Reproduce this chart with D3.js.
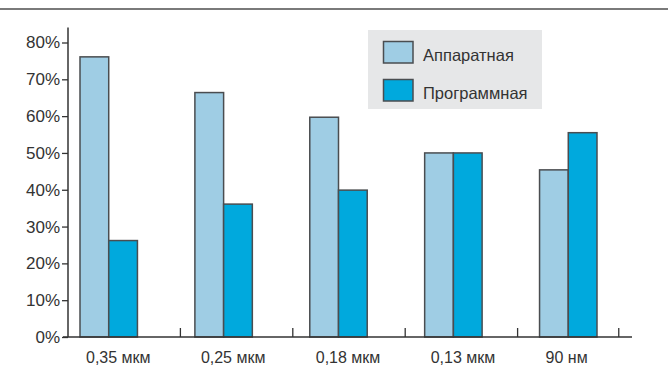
<!DOCTYPE html>
<html><head><meta charset="utf-8">
<script src="https://cdn.jsdelivr.net/npm/d3@7/dist/d3.min.js"></script>
<style>
html,body{margin:0;padding:0;background:#fff;}
svg{display:block;font-family:"Liberation Sans",Arial,sans-serif;}
</style></head>
<body>
<svg id="chart" width="668" height="378"></svg>
<script>
const categories = ["0,35 мкм", "0,25 мкм", "0,18 мкм", "0,13 мкм", "90 нм"];
const seriesNames = ["Аппаратная", "Программная"];
const hardware = [76.1, 66.4, 59.7, 50, 45.4];
const software = [26.2, 36.1, 39.9, 50, 55.5];
const yTicks = [0, 10, 20, 30, 40, 50, 60, 70, 80];
const colors = ["#9fcde4", "#00a9dd"];

const svg = d3.select("#chart");
const axisColor = "#333";
const strokeColor = "#4a4d50";

// top rule
svg.append("rect").attr("x", 0).attr("y", 8).attr("width", 668).attr("height", 2).attr("fill", "#7a7a7a");

const y = d3.scaleLinear().domain([0, 80]).range([337, 42.5]);
const x0 = d3.scaleBand().domain(categories).range([80, 597]).paddingInner(0.5).paddingOuter(0);
const x1 = d3.scaleBand().domain(seriesNames).range([0, x0.bandwidth()]).padding(0);
const sep = d3.scaleLinear().domain([0, 5]).range([68, 630]);

// bars
const g = svg.append("g");
categories.forEach((c, i) => {
  const vals = [hardware[i], software[i]];
  seriesNames.forEach((s, j) => {
    g.append("rect")
      .attr("x", x0(c) + x1(s))
      .attr("y", y(vals[j]))
      .attr("width", x1.bandwidth())
      .attr("height", y(0) - y(vals[j]))
      .attr("fill", colors[j])
      .attr("stroke", strokeColor)
      .attr("stroke-width", 1.5);
  });
});

// y axis
const yAxis = d3.axisLeft(y).tickValues(yTicks).tickFormat(d => d + "%").tickSize(6).tickPadding(2);
const ya = svg.append("g").attr("transform", "translate(68,0)").call(yAxis);
ya.select(".domain").attr("stroke", axisColor).attr("stroke-width", 1.5).attr("d", `M0,${y(80) - 15}V${y(0)}`);
ya.selectAll(".tick line").attr("stroke", axisColor).attr("stroke-width", 1.3);
ya.selectAll(".tick text").attr("fill", "#333").attr("font-size", 17).attr("font-family", "Liberation Sans, Arial, sans-serif");

// x axis line
svg.append("line").attr("x1", 63).attr("x2", 632).attr("y1", y(0)).attr("y2", y(0))
  .attr("stroke", axisColor).attr("stroke-width", 1.5);
// separators
[1, 2, 3, 4, 4.9].forEach(k => {
  svg.append("line").attr("x1", sep(k)).attr("x2", sep(k)).attr("y1", y(0)).attr("y2", y(0) - 9)
    .attr("stroke", axisColor).attr("stroke-width", 1.3);
});
// category labels
categories.forEach(c => {
  svg.append("text").attr("x", x0(c) + 6).attr("y", 362.5)
    .attr("font-size", 16).attr("fill", "#333").text(c);
});

// legend
svg.append("rect").attr("x", 368).attr("y", 30).attr("width", 174).attr("height", 79).attr("fill", "#e6e7e8");
seriesNames.forEach((s, j) => {
  svg.append("rect").attr("x", 383.5).attr("y", 41.5 + j * 38).attr("width", 29.5).attr("height", 21.5)
    .attr("fill", colors[j]).attr("stroke", strokeColor).attr("stroke-width", 1.5);
  svg.append("text").attr("x", 423).attr("y", 61 + j * 38).attr("font-size", 16.5).attr("fill", "#333").text(s);
});
</script>
</body></html>
